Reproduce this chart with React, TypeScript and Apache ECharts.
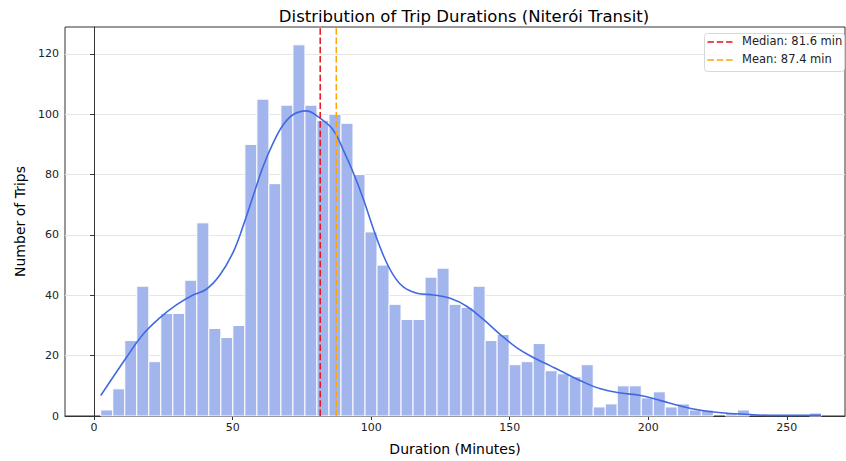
import React, { useEffect, useRef } from "react";
import * as echarts from "echarts";

// Histogram: 60 equal-width bins starting at binStart (minutes)
const binStart = 2.4;
const binWidth = 4.335;
const counts = [
  2, 9, 25, 43, 18, 34, 34, 45, 64, 29, 26, 30,
  90, 105, 77, 103, 123, 103, 98, 100, 97, 80, 61, 50,
  37, 32, 32, 46, 49, 37, 36, 43, 25, 27, 17, 18,
  24, 15, 14, 13, 17, 3, 4, 10, 10, 6, 8, 3,
  4, 2, 2, 0, 1, 2, 0, 0, 0, 0, 0, 1,
];

// KDE curve (scaled to counts)
const kdeX = [
  2.4, 11.6, 17.6, 23.7, 29.7, 35.7, 40.5, 45.4, 50.2, 53.8, 57.4, 61, 64.6, 68.2,
  71.9, 76.5, 80.9, 86.3, 89.9, 93.6, 97.2, 100.8, 104.4, 108, 111.6, 116.5, 122.5,
  128.5, 134.6, 140.6, 146.6, 152.6, 158.7, 164.7, 168.3, 175.5, 182.8, 190, 197.2,
  204.5, 211.7, 218.9, 226.2, 233.4, 245.4, 262.4,
];
const kdeY = [
  6.8, 19.3, 27, 32.5, 36.8, 40.1, 42, 46.7, 54.3, 63, 72.9, 82.7, 90.4, 96.4,
  99.9, 101.1, 99.1, 94.8, 88.2, 80.5, 71.8, 62, 53.2, 46.7, 42.8, 40.7, 40.1,
  39, 36.3, 31.9, 27, 22.6, 19.3, 16.6, 15, 11.7, 9, 7.6, 6.8,
  5.1, 3.3, 1.9, 1.1, 0.65, 0.2, 0.2,
];

const median = 81.6;
const mean = 87.4;
const legendLabels = ["Median: 81.6 min", "Mean: 87.4 min"];
const xTicks = [0, 50, 100, 150, 200, 250];
const yTicks = [0, 20, 40, 60, 80, 100, 120];

const X_MIN = -10.5;
const X_MAX = 271;
const Y_MAX = 128.9;

const FONT = "DejaVu Sans";
const MEDIAN_COLOR = "#e8101a";
const MEAN_COLOR = "#ffa500";
const DASH = [6.5, 2.8];

export default function App() {
  const ref = useRef<HTMLDivElement>(null);

  useEffect(() => {
    if (!ref.current) return;
    const chart = echarts.init(ref.current, null, { renderer: "svg" });

    const histData = counts.map((c, i) => [binStart + i * binWidth, binStart + (i + 1) * binWidth, c]);

    const option: any = {
      animation: false,
      backgroundColor: "#ffffff",
      textStyle: { fontFamily: FONT },
      title: {
        text: "Distribution of Trip Durations (Niterói Transit)",
        left: 459,
        textAlign: "center",
        top: 3,
        textStyle: { fontFamily: FONT, fontSize: 16.5, fontWeight: "normal", color: "#000" },
      },
      grid: {
        left: 65,
        right: 1,
        top: 27,
        bottom: 42,
        show: true,
        borderColor: "#333",
        borderWidth: 1,
        backgroundColor: "transparent",
      },
      xAxis: {
        type: "value",
        min: X_MIN,
        max: X_MAX,
        name: "Duration (Minutes)",
        nameLocation: "middle",
        nameGap: 26,
        nameTextStyle: { fontFamily: FONT, fontSize: 14, color: "#000" },
        axisLine: { show: true, onZero: false, lineStyle: { color: "#333", width: 1 } },
        axisTick: { show: true, length: 4, customValues: xTicks, lineStyle: { color: "#333" } },
        axisLabel: { customValues: xTicks, fontFamily: FONT, fontSize: 11, color: "#222", margin: 6 },
        splitLine: { show: false },
      },
      yAxis: {
        type: "value",
        min: 0,
        max: Y_MAX,
        interval: 20,
        name: "Number of Trips",
        nameLocation: "middle",
        nameGap: 37,
        nameTextStyle: { fontFamily: FONT, fontSize: 14, color: "#000" },
        axisLine: { show: true, lineStyle: { color: "#333", width: 1 } },
        axisTick: { show: true, length: 4, customValues: yTicks, lineStyle: { color: "#333" } },
        axisLabel: { customValues: yTicks, fontFamily: FONT, fontSize: 11, color: "#222", margin: 6 },
        splitLine: { show: true, lineStyle: { color: "#e6e6e6", width: 1 } },
      },
      graphic: [
        {
          type: "rect",
          left: 704,
          top: 33,
          shape: { width: 140, height: 38, r: 3 },
          style: { fill: "rgba(255,255,255,0.85)", stroke: "#d8d8d8", lineWidth: 1 },
          z: 100,
        },
        {
          type: "line",
          shape: { x1: 707.5, y1: 42, x2: 732.5, y2: 42 },
          style: { stroke: MEDIAN_COLOR, lineWidth: 1.5, lineDash: DASH },
          z: 101,
        },
        {
          type: "line",
          shape: { x1: 707.5, y1: 60, x2: 732.5, y2: 60 },
          style: { stroke: MEAN_COLOR, lineWidth: 1.5, lineDash: DASH },
          z: 101,
        },
        {
          type: "text",
          left: 742,
          top: 35,
          style: { text: legendLabels[0], fontFamily: FONT, fontSize: 11.5, fill: "#222" },
          z: 101,
        },
        {
          type: "text",
          left: 742,
          top: 53,
          style: { text: legendLabels[1], fontFamily: FONT, fontSize: 11.5, fill: "#222" },
          z: 101,
        },
      ],
      series: [
        {
          type: "custom",
          name: "hist",
          data: histData,
          encode: { x: [0, 1], y: 2 },
          renderItem: (params: any, api: any) => {
            const x0 = api.value(0);
            const x1 = api.value(1);
            const c = api.value(2);
            if (!c) return null;
            const p0 = api.coord([x0, 0]);
            const p1 = api.coord([x1, c]);
            return {
              type: "rect",
              shape: { x: p0[0], y: p1[1], width: p1[0] - p0[0], height: p0[1] - p1[1] },
              style: { fill: "#a3b5ed", stroke: "#ffffff", lineWidth: 1 },
            };
          },
          z: 2,
        },
        {
          type: "line",
          name: "KDE",
          data: kdeX.map((x, i) => [x, kdeY[i]]),
          smooth: 0.4,
          showSymbol: false,
          symbol: "none",
          lineStyle: { color: "#4169e1", width: 1.6 },
          z: 4,
        },
        {
          type: "line",
          name: legendLabels[0],
          data: [[median, 0], [median, Y_MAX]],
          symbol: "none",
          color: MEDIAN_COLOR,
          lineStyle: { color: MEDIAN_COLOR, width: 1.5, type: DASH },
          z: 5,
        },
        {
          type: "line",
          name: legendLabels[1],
          data: [[mean, 0], [mean, Y_MAX]],
          symbol: "none",
          color: MEAN_COLOR,
          lineStyle: { color: MEAN_COLOR, width: 1.5, type: DASH },
          z: 5,
        },
      ],
    };

    chart.setOption(option);
    return () => chart.dispose();
  }, []);

  return <div ref={ref} style={{ width: 846, height: 461, position: "absolute", left: 0, top: 0 }} />;
}
